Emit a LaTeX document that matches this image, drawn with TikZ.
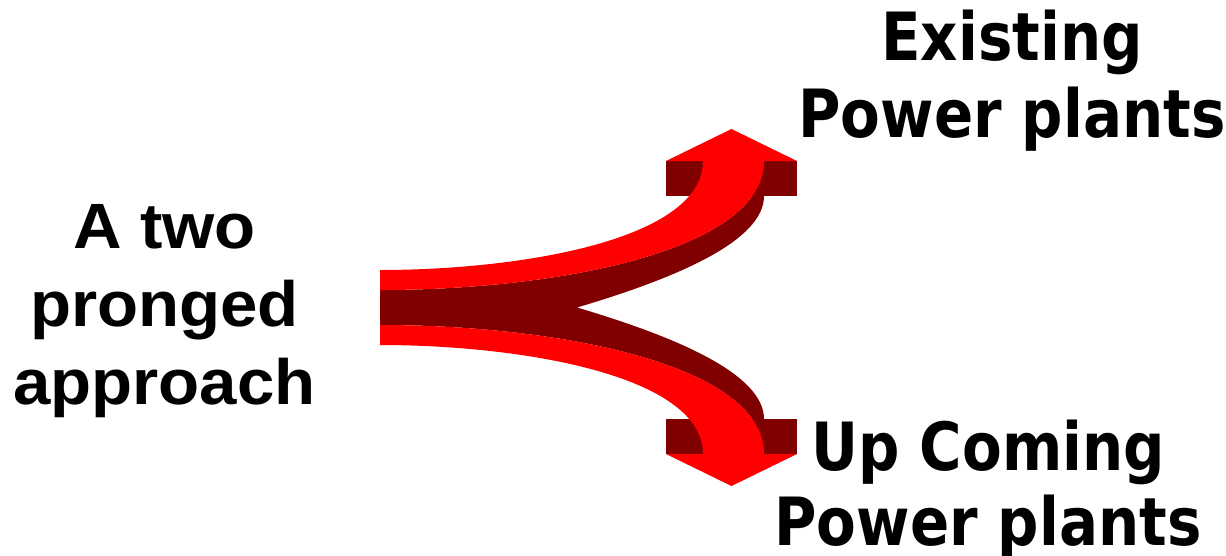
\documentclass[tikz,border=0pt]{standalone}
\usepackage{fontspec}
\newfontfamily\leftfont{Liberation Sans}[FakeStretch=1.05]
\newfontfamily\rightfont{DejaVu Sans}[FakeStretch=0.87]
\definecolor{arrowred}{HTML}{FF0000}
\definecolor{arrowdark}{HTML}{800000}
\begin{document}
\begin{tikzpicture}[x=1pt,y=-1pt,
  leftlabel/.style={anchor=base,inner sep=0pt,font=\leftfont\bfseries\fontsize{64}{78}\selectfont},
  rightlabel/.style={anchor=base,inner sep=0pt,font=\rightfont\bfseries\fontsize{66.5}{78}\selectfont},
  facelight/.style={fill=arrowred},
  faceshade/.style={fill=arrowdark}]
\useasboundingbox (0,0) rectangle (1226,555);

% shaded side of the split ribbon (upper and lower prong share the shaft)
\fill[faceshade] (380,290) .. controls (560,290) and (764,250) .. (764,161)
  -- (764,196) .. controls (764,240) and (680,277) .. (577,307.5)
  .. controls (680,338) and (764,375) .. (764,419)
  -- (764,454) .. controls (764,365) and (560,325) .. (380,325) -- cycle;

% shaded collars under the arrowheads
\fill[faceshade] (666,161) rectangle (797,196);
\fill[faceshade] (666,419) rectangle (797,454);

% lit top faces of the two prongs
\fill[facelight] (380,270) .. controls (520,270) and (703,240) .. (703,161)
  -- (764,161) .. controls (764,250) and (560,290) .. (380,290) -- cycle;
\fill[facelight] (380,345) .. controls (520,345) and (703,375) .. (703,454)
  -- (764,454) .. controls (764,365) and (560,325) .. (380,325) -- cycle;

% arrowheads
\fill[facelight] (666,161) -- (797,161) -- (731.5,129) -- cycle;
\fill[facelight] (666,454) -- (797,454) -- (731.5,486) -- cycle;

% labels
\node[leftlabel] (srcA) at (164.5,248) {A two};
\node[leftlabel] (srcB) at (164.5,326) {pronged};
\node[leftlabel] (srcC) at (164.5,404) {approach};

\node[rightlabel] (topA) at (1012,60) {Existing};
\node[rightlabel] (topB) at (1012,137) {Power plants};

\node[rightlabel] (botA) at (988,470) {Up Coming};
\node[rightlabel] (botB) at (988,545) {Power plants};
\end{tikzpicture}
\end{document}
